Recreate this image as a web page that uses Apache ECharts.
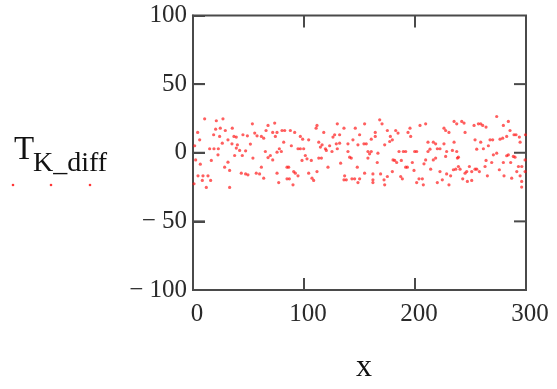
<!DOCTYPE html>
<html><head><meta charset="utf-8">
<script src="https://cdn.jsdelivr.net/npm/echarts@6/dist/echarts.min.js"></script>
<style>html,body{margin:0;padding:0;background:#fff}#c{width:557px;height:389px}</style>
</head><body><div id="c"></div>
<script>
// axis settings (values)
const xMin = 0, xMax = 300, xStep = 100;
const yMin = -100, yMax = 100, yStep = 50;
const xInnerTicks = [100, 200];
const yInnerTicks = [50, 0, -50];
const xTitle = 'x';
const yTitleMain = 'T';
const yTitleSub = 'K_diff';

// T_K_diff scatter values, grouped by x range
const pts0to60 = [[10.5,24.7],[27,24.7],[21,23.3],[53.5,21.1],[24.6,17.9],[20.4,17.2],[29.1,16.2],[35.4,17.9],[4.2,14.8],[18.6,13.1],[24,11.9],[36.9,11.9],[39,11.4],[45,13.1],[49,12.3],[55.6,14.3],[57.7,12.3],[6,9.4],[31.5,9.4],[26.4,7],[35.1,6.5],[40,5.8],[51.7,6.3],[1.5,5.1],[15,2.9],[18.9,2.9],[22.8,2.9],[39,3.4],[42,1.7],[47.4,1.4],[22.5,-1.5],[37.5,-2],[44.4,-2],[54,-3.9],[2.4,-5.2],[16.5,-5.6],[31.5,-6.9],[6.6,-8.3],[28.5,-10.5],[33,-12.9],[43.5,-14.9],[47.4,-15.4],[49.5,-16.1],[57,-14.9],[60,-15.4],[4.5,-16.8],[9,-16.8],[13.5,-16.8],[8.4,-20.2],[15.9,-20.2],[12,-25.3],[33,-25.3],[0.9,-22.6]];
const pts60to120 = [[73.6,21.6],[67.6,19.9],[65.8,16.2],[71.8,14.8],[75.7,14.8],[80.2,16.2],[82.6,16.2],[87.7,16.2],[91.6,14.8],[111.7,19.9],[110.9,17.9],[117.8,14.8],[61.6,11.9],[63.7,10.6],[74.2,11.9],[96.7,11.9],[98.8,9.9],[104.2,9.4],[81.7,7.7],[88.6,5.1],[113.3,7.7],[116.3,5.8],[77.8,2.9],[79.6,0.9],[75.7,0.4],[65.2,0.9],[94.6,2.9],[96.7,2.9],[99.7,2.9],[114.8,4.1],[119.3,2.9],[69.7,-2],[67.6,-3.5],[71.8,-5.2],[101.2,-2],[102.7,-4.4],[106.6,-5.6],[98.2,-5.6],[113.3,-3.9],[115.7,-3.9],[61.6,-10.5],[84.7,-10.5],[86.2,-10.5],[111.7,-13.7],[75.7,-14.9],[90.7,-13.7],[92.2,-14.9],[94.6,-16.8],[104.2,-14.9],[63.7,-18.5],[84.7,-19],[86.8,-19],[107.2,-18.5],[108.7,-20.2],[77.2,-21.7],[90.1,-23.4]];
const pts120to180 = [[130,21.1],[136,17.9],[146.2,17.9],[154.6,21.1],[168.2,24],[170.3,21.1],[175.1,16.2],[127.6,13.1],[126.1,11.4],[132.1,13.1],[150.1,13.1],[164.2,14.8],[164.2,11.9],[160.6,9.9],[177.8,11.9],[177.2,8.2],[123.1,5.1],[132.1,7],[129.1,6.5],[139.6,6.5],[144.1,9.4],[148.6,5.8],[154,6.5],[156.1,6.5],[172.7,5.8],[120.1,1.7],[125.2,0.9],[130,2.9],[139.6,0.9],[141.1,-3.2],[142.6,-3.9],[157.6,0.9],[160.6,0.9],[159.1,-0.8],[157.6,-3.9],[166.6,-0.3],[133,-7.6],[148,-10.5],[166,-7.1],[180.2,-5.2],[121.6,-10.5],[154.6,-14.9],[162.1,-15.4],[169,-15.4],[175.1,-17.3],[172.1,-19.7],[136.6,-16.8],[136,-19.7],[138.1,-19.7],[143.2,-19],[145.6,-19],[150.1,-19],[148.6,-21.7],[162.1,-19.7],[162.1,-21.7],[172.7,-23.4]];
const pts180to240 = [[182.6,16.2],[184.7,14.3],[193.7,14.8],[195.5,17.9],[196.1,11.9],[204.5,19.9],[209.6,21.1],[226.1,17.9],[227.6,16.2],[235.2,22.8],[237.6,21.1],[230.6,14.8],[179.6,9.4],[211.7,7.7],[216.5,7.7],[218.6,6.5],[226.1,6.5],[235.2,7.7],[185.6,0.9],[189.5,0.9],[191.6,0.9],[199.7,0.9],[201.5,0.9],[211.7,0.9],[213.5,2.6],[220.1,2.9],[222.5,2.9],[228.5,0.9],[233.7,1.7],[237.6,0.9],[181.7,-5.6],[183.5,-7.1],[187.7,-5.6],[197.6,-7.1],[209.6,-5.2],[208.1,-8.1],[216.5,-5.2],[218.6,-3.9],[227.6,-2.7],[238.2,-3.9],[191.6,-10.5],[193.1,-10.5],[199.1,-12.9],[214.1,-12],[234.6,-12.4],[236.7,-12],[179.6,-13.7],[187.1,-17.3],[188.6,-19],[203.6,-19],[206.6,-19],[222.5,-13.7],[228.5,-15.4],[232.1,-16.8],[201.5,-21.7],[207.5,-23.4],[220.1,-21.7],[224.6,-19.7],[230.6,-23.4]];
const pts240to300 = [[242.1,22.8],[244.2,21.6],[273.6,26.4],[253.2,19.9],[257.1,21.1],[259.2,21.1],[261,19.9],[264,18.7],[284.1,22.8],[279.6,19.9],[285.6,16.2],[245.1,14.8],[289.2,13.1],[291,13.1],[299.5,13.1],[254.1,9.4],[259.2,7.7],[267.6,9.4],[270,9.4],[276.6,9.9],[279,10.6],[282.6,11.9],[294,11.4],[294.7,7.7],[266.1,5.1],[261.6,2.9],[255.6,2.6],[270.6,-1.5],[273.6,-0.3],[284.1,-1.5],[282.6,-2.2],[288.6,-2.7],[290.1,-3.2],[299.2,-5.2],[239.1,-3.2],[264,-5.6],[269.1,-7.1],[279.6,-7.1],[286.2,-7.1],[239.1,-10],[240.6,-12],[249,-10],[254.1,-12],[255.6,-12],[258,-13.7],[246.6,-13.7],[245.1,-14.9],[251.1,-13.7],[263.1,-10],[276,-12.4],[293.2,-10],[291.7,-13.7],[296.2,-10],[299.2,-13.7],[243,-19],[247.2,-20.9],[251.1,-20.2],[265.2,-16.8],[280.2,-16.8],[287.1,-18.5],[294.7,-16.8],[296.1,-20.9],[296.1,-25]];

const allPts = [].concat(pts0to60, pts60to120, pts120to180, pts180to240, pts240to300);

const axisColor = '#4a4a4a';
const labelFont = 'Liberation Serif';
const tickLen = 12;

// inner ticks on all four sides, placed through the axes' scales
function renderXTick(params, api) {
  const v = api.value(0);
  const b = api.coord([v, yMin]);
  const t = api.coord([v, yMax]);
  return { type: 'group', children: [
    { type: 'rect', shape: { x: b[0] - 1, y: b[1] - tickLen, width: 2, height: tickLen }, style: { fill: axisColor } },
    { type: 'rect', shape: { x: t[0] - 1, y: t[1], width: 2, height: tickLen }, style: { fill: axisColor } }
  ] };
}
function renderYTick(params, api) {
  const v = api.value(1);
  const l = api.coord([xMin, v]);
  const r = api.coord([xMax, v]);
  return { type: 'group', children: [
    { type: 'rect', shape: { x: l[0], y: l[1] - 1, width: tickLen, height: 2 }, style: { fill: axisColor } },
    { type: 'rect', shape: { x: r[0] - tickLen, y: r[1] - 1, width: tickLen, height: 2 }, style: { fill: axisColor } }
  ] };
}

const chart = echarts.init(document.getElementById('c'), null, { renderer: 'canvas' });
chart.setOption({
  animation: false,
  backgroundColor: '#fff',
  grid: { left: 193, right: 31, top: 15.5, bottom: 99, containLabel: false,
          show: true, borderColor: axisColor, borderWidth: 2, backgroundColor: 'transparent' },
  xAxis: {
    type: 'value', min: xMin, max: xMax, interval: xStep,
    axisLine: { show: true, onZero: false, lineStyle: { color: axisColor, width: 2 } },
    axisTick: { show: true, inside: true, length: tickLen, lineStyle: { color: axisColor, width: 2 } },
    splitLine: { show: false },
    axisLabel: { fontFamily: labelFont, fontSize: 25, color: '#2a2a2a', margin: 12, padding: [0, 0, 0, 8] }
  },
  yAxis: {
    type: 'value', min: yMin, max: yMax, interval: yStep,
    axisLine: { show: true, onZero: false, lineStyle: { color: axisColor, width: 2 } },
    axisTick: { show: true, inside: true, length: tickLen, lineStyle: { color: axisColor, width: 2 } },
    splitLine: { show: false },
    axisLabel: {
      fontFamily: labelFont, fontSize: 25, color: '#2a2a2a', margin: 6, padding: [4, 0, 0, 0],
      formatter: v => v < 0 ? '\u2212 ' + Math.abs(v) : String(v)
    }
  },
  series: [{
    type: 'scatter',
    data: allPts, symbol: 'circle', symbolSize: 3.2,
    itemStyle: { color: 'rgba(255,20,20,0.85)' }, silent: true, z: 3
  }, {
    type: 'custom', silent: true, z: 6,
    data: xInnerTicks.map(v => [v, 0]), renderItem: renderXTick
  }, {
    type: 'custom', silent: true, z: 6,
    data: yInnerTicks.map(v => [150, v]), renderItem: renderYTick
  }],
  graphic: [
    { type: 'text', left: 14, top: 134, style: { text: yTitleMain, font: '33px "Liberation Serif"', fill: '#111' } },
    { type: 'text', left: 33, top: 150, style: { text: yTitleSub, font: '28px "Liberation Serif"', fill: '#111' } },
    { type: 'circle', shape: { cx: 13, cy: 185, r: 1.3 }, style: { fill: 'rgba(255,20,20,0.85)' } },
    { type: 'circle', shape: { cx: 51, cy: 185, r: 1.3 }, style: { fill: 'rgba(255,20,20,0.85)' } },
    { type: 'circle', shape: { cx: 90, cy: 185, r: 1.3 }, style: { fill: 'rgba(255,20,20,0.85)' } },
    { type: 'text', left: 356, top: 352, style: { text: xTitle, font: '32px "Liberation Serif"', fill: '#111' } }
  ]
});
</script>
</body></html>
